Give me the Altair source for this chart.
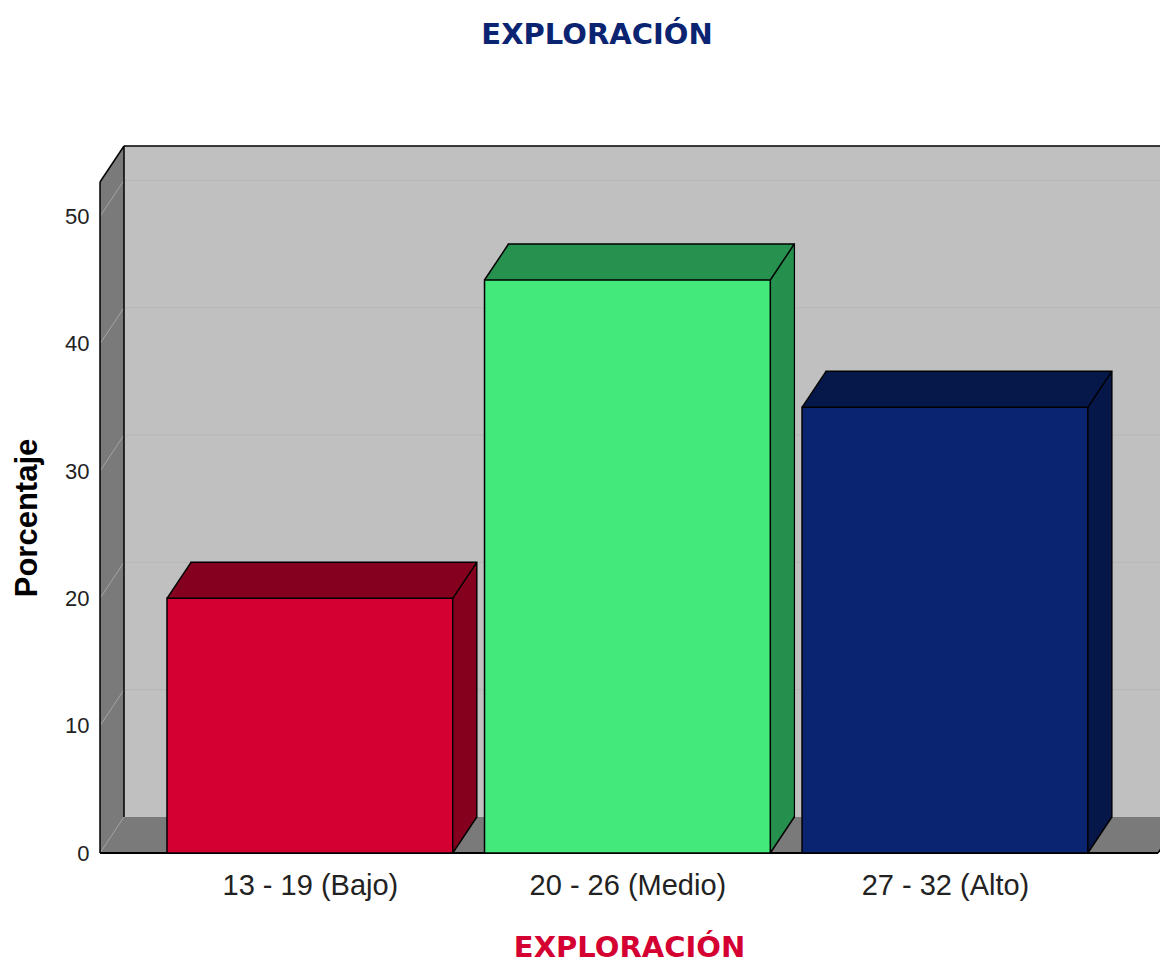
import json
import altair as alt
import pandas as pd

# ---- data ----
categories = ["13 - 19 (Bajo)", "20 - 26 (Medio)", "27 - 32 (Alto)"]
percentages = [20.0, 45.0, 35.0]
y_ticks = [0, 10, 20, 30, 40, 50]
chart_title = "EXPLORACIÓN"
x_title = "EXPLORACIÓN"
y_title = "Porcentaje"

# ---- styles ----
front_colors = ["#d50032", "#43e97b", "#0a2472"]
side_colors = ["#85001f", "#27914f", "#07184a"]
WALL_DARK = "#7a7a7a"
WALL_LIGHT = "#c0c0c0"
SANS = "Liberation Sans, Arial, sans-serif"

W, H = 1058, 671          # front plane of the 3-D box
DX, DY = 24, 36           # depth of the 3-D effect (pixels)
N = 36                    # extrusion steps
XMIN, XMAX = -0.661, 2.671
YMAX = 52.7
HALF = 0.45               # half bar width, in category steps

df = pd.DataFrame({"cat": categories, "idx": list(range(len(categories))), "value": percentages})
ticks_df = pd.DataFrame({"t": y_ticks})
one = pd.DataFrame({"k": [0]})

xs = alt.Scale(domain=[XMIN, XMAX], nice=False, zero=False)
ys = alt.Scale(domain=[0, YMAX], nice=False, zero=False)
side_scale = alt.Scale(domain=categories, range=side_colors)
front_scale = alt.Scale(domain=categories, range=front_colors)

label_expr = json.dumps(categories) + "[datum.value]"

XAX = alt.Axis(
    values=list(range(len(categories))), labelExpr=label_expr,
    grid=False, ticks=False, domain=False, labelLimit=0,
    labelFont=SANS, labelFontSize=29, labelColor="#222222", labelPadding=18,
    titleFont="DejaVu Sans", titleFontSize=29, titleFontWeight="bold",
    titleColor="#d50032", titlePadding=33,
)
YAX = alt.Axis(
    values=y_ticks, grid=False, ticks=False, domain=False,
    labelFont=SANS, labelFontSize=22, labelColor="#222222", labelPadding=11,
    titleFont=SANS, titleFontSize=31, titleFontWeight="bold",
    titleColor="black", titlePadding=21,
)


def X(field):
    return alt.X(field, scale=xs, axis=XAX, title=x_title)


def Y(field):
    return alt.Y(field, scale=ys, axis=YAX, title=y_title)


def XD(v):
    return alt.XDatum(v, scale=xs, axis=XAX, title=x_title)


def YD(v):
    return alt.YDatum(v, scale=ys, axis=YAX, title=y_title)


def off(k):
    return dict(xOffset=DX * k / N, x2Offset=DX * k / N, yOffset=-DY * k / N, y2Offset=-DY * k / N)


layers = []

# dark box hull (becomes left wall + floor once the back wall is drawn)
for k in range(N, -1, -1):
    layers.append(
        alt.Chart(one).mark_rect(color=WALL_DARK, **off(k)).encode(
            x=XD(XMIN), x2=alt.X2Datum(XMAX), y=YD(0), y2=alt.Y2Datum(YMAX)
        )
    )

# back wall
layers.append(
    alt.Chart(one).mark_rect(color=WALL_LIGHT, **off(N)).encode(
        x=XD(XMIN), x2=alt.X2Datum(XMAX), y=YD(0), y2=alt.Y2Datum(YMAX)
    )
)

# back wall grid lines
layers.append(
    alt.Chart(ticks_df).transform_filter("datum.t > 0").mark_rule(
        color="#b6b6b6", strokeWidth=1, xOffset=DX, x2Offset=DX, yOffset=-DY
    ).encode(x=XD(XMIN), x2=alt.X2Datum(XMAX), y=Y("t:Q"))
)

# left wall diagonal grid lines
layers.append(
    alt.Chart(ticks_df).mark_rule(
        color="#a4a4a4", strokeWidth=1, x2Offset=DX, y2Offset=-DY
    ).encode(x=XD(XMIN), x2=alt.X2Datum(XMIN), y=Y("t:Q"), y2="t:Q")
)

# black frame edges
edge = dict(color="black", strokeWidth=1.5)
layers += [
    alt.Chart(one).mark_rule(**edge).encode(x=XD(XMIN), y=YD(0), y2=alt.Y2Datum(YMAX)),
    alt.Chart(one).mark_rule(**edge, x2Offset=DX, y2Offset=-DY).encode(
        x=XD(XMIN), x2=alt.X2Datum(XMIN), y=YD(YMAX), y2=alt.Y2Datum(YMAX)),
    alt.Chart(one).mark_rule(**edge, xOffset=DX, x2Offset=DX, yOffset=-DY).encode(
        x=XD(XMIN), x2=alt.X2Datum(XMAX), y=YD(YMAX)),
    alt.Chart(one).mark_rule(**edge, xOffset=DX, yOffset=-DY, y2Offset=-DY).encode(
        x=XD(XMIN), y=YD(0), y2=alt.Y2Datum(YMAX)),
    alt.Chart(one).mark_rule(color="black", strokeWidth=2.2).encode(
        x=XD(XMIN), x2=alt.X2Datum(XMAX), y=YD(0)),
    alt.Chart(one).mark_rule(**edge, x2Offset=DX, y2Offset=-DY).encode(
        x=XD(XMAX), x2=alt.X2Datum(XMAX), y=YD(0), y2=alt.Y2Datum(0)),
]

bars = alt.Chart(df).transform_calculate(
    x0=f"datum.idx - {HALF}", x1=f"datum.idx + {HALF}"
)

# extruded top / side faces of the bars
for k in range(N, 0, -1):
    props = dict(**off(k))
    if k == N:
        props.update(stroke="black", strokeWidth=1.5)
    layers.append(
        bars.mark_rect(**props).encode(
            x=X("x0:Q"), x2="x1:Q", y=Y("value:Q"), y2=alt.Y2Datum(0),
            fill=alt.Fill("cat:N", scale=side_scale, legend=None),
        )
    )

# front faces
layers.append(
    bars.mark_rect(stroke="black", strokeWidth=1.5).encode(
        x=X("x0:Q"), x2="x1:Q", y=Y("value:Q"), y2=alt.Y2Datum(0),
        color=alt.Color("cat:N", scale=front_scale, legend=None),
    )
)

# bar edges (diagonals)
diag = dict(color="black", strokeWidth=1.5, x2Offset=DX, y2Offset=-DY)
layers += [
    bars.mark_rule(**diag).encode(x=X("x0:Q"), x2="x0:Q", y=Y("value:Q"), y2="value:Q"),
    bars.mark_rule(**diag).encode(x=X("x1:Q"), x2="x1:Q", y=Y("value:Q"), y2="value:Q"),
    bars.mark_rule(**diag).encode(x=X("x1:Q"), x2="x1:Q", y=YD(0), y2=alt.Y2Datum(0)),
]

chart = alt.layer(*layers).properties(
    width=W,
    height=H,
    padding={"left": 92, "top": 174, "right": 2, "bottom": 111},
    autosize=alt.AutoSizeParams(type="none"),
    background="white",
    title=alt.Title(
        chart_title, font="DejaVu Sans", fontSize=29, fontWeight="bold",
        color="#0a2472", offset=95, dx=-32,
    ),
).configure_view(stroke=None)

chart.save("out.html", embed_options={"renderer": "svg", "actions": False})
